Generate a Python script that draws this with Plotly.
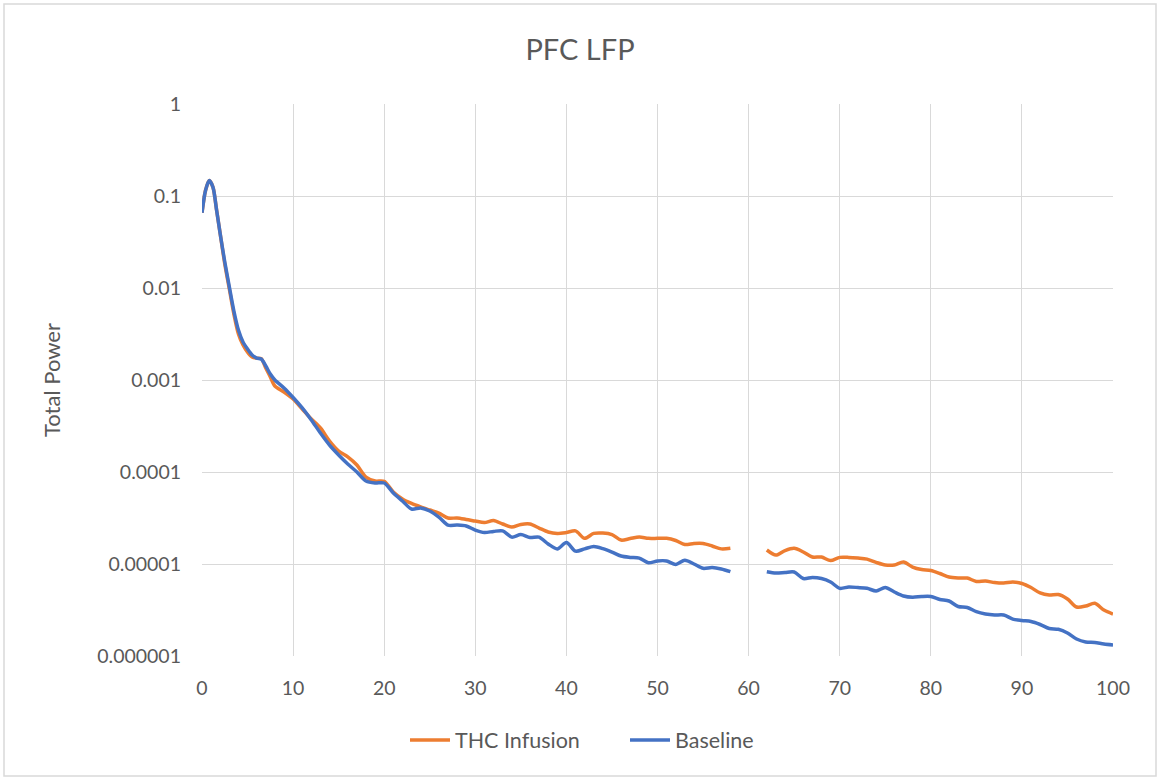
import plotly.graph_objects as go

# Frequency (Hz); None marks the excluded 58-62 Hz band
freq = [0, 0.4, 0.8, 1.2, 1.6, 2, 2.5, 3, 3.5, 4, 4.5, 5, 5.5, 6, 6.5, 7, 7.5, 8,
        9, 10, 11, 12, 13, 14, 15, 16, 17, 18, 19, 20, 21, 22, 23, 24, 25, 26, 27, 28, 29,
        30, 31, 32, 33, 34, 35, 36, 37, 38, 39, 40, 41, 42, 43, 44, 45, 46, 47, 48, 49,
        50, 51, 52, 53, 54, 55, 56, 57, 58, 60,
        62, 63, 64, 65, 66, 67, 68, 69, 70, 71, 72, 73, 74, 75, 76, 77, 78, 79,
        80, 81, 82, 83, 84, 85, 86, 87, 88, 89, 90, 91, 92, 93, 94, 95, 96, 97, 98, 99, 100]

thc_infusion = [0.0658, 0.116, 0.147, 0.125, 0.0705, 0.0386, 0.0183, 0.00975, 0.00521,
                0.00316, 0.0024, 0.00201, 0.00178, 0.00173, 0.00171, 0.00135, 0.00108, 0.000861,
                0.000741, 0.000621, 0.000484, 0.000377, 0.000301, 0.000217, 0.000169, 0.000146,
                0.000119, 8.82e-5, 7.98e-5, 7.9e-5, 6.07e-5, 5.09e-5, 4.55e-5, 4.17e-5, 3.86e-5,
                3.58e-5, 3.16e-5, 3.16e-5, 3.05e-5, 2.93e-5, 2.82e-5, 2.97e-5, 2.72e-5, 2.52e-5,
                2.69e-5, 2.72e-5, 2.46e-5, 2.23e-5, 2.15e-5, 2.2e-5, 2.29e-5, 1.9e-5, 2.15e-5,
                2.17e-5, 2.09e-5, 1.82e-5, 1.89e-5, 1.96e-5, 1.9e-5, 1.9e-5, 1.9e-5, 1.8e-5,
                1.63e-5, 1.67e-5, 1.67e-5, 1.57e-5, 1.46e-5, 1.48e-5, None,
                1.42e-5, 1.25e-5, 1.4e-5, 1.48e-5, 1.35e-5, 1.19e-5, 1.19e-5, 1.09e-5, 1.18e-5,
                1.18e-5, 1.16e-5, 1.13e-5, 1.04e-5, 9.75e-6, 9.75e-6, 1.05e-5, 9.27e-6, 8.71e-6,
                8.49e-6, 7.88e-6, 7.22e-6, 7.05e-6, 7.03e-6, 6.46e-6, 6.53e-6, 6.29e-6, 6.21e-6,
                6.37e-6, 6.14e-6, 5.55e-6, 4.84e-6, 4.6e-6, 4.66e-6, 4.17e-6, 3.41e-6, 3.49e-6,
                3.74e-6, 3.16e-6, 2.86e-6]

baseline = [0.0658, 0.116, 0.147, 0.125, 0.0705, 0.0386, 0.0192, 0.0103, 0.00562,
            0.00349, 0.00259, 0.00217, 0.00187, 0.00173, 0.00169, 0.00142, 0.00116, 0.001,
            0.000818, 0.000645, 0.000497, 0.000368, 0.000265, 0.000196, 0.000153, 0.000122,
            0.0001, 7.98e-5, 7.59e-5, 7.59e-5, 5.91e-5, 4.84e-5, 3.96e-5, 4.06e-5, 3.77e-5,
            3.24e-5, 2.65e-5, 2.65e-5, 2.59e-5, 2.34e-5, 2.2e-5, 2.26e-5, 2.29e-5, 1.96e-5,
            2.09e-5, 1.94e-5, 1.96e-5, 1.65e-5, 1.46e-5, 1.71e-5, 1.38e-5, 1.46e-5, 1.55e-5,
            1.47e-5, 1.35e-5, 1.22e-5, 1.18e-5, 1.16e-5, 1.03e-5, 1.08e-5, 1.08e-5, 9.88e-6,
            1.1e-5, 1.0e-5, 8.97e-6, 9.16e-6, 8.83e-6, 8.25e-6, None,
            8.25e-6, 7.98e-6, 8.09e-6, 8.18e-6, 6.95e-6, 7.13e-6, 6.95e-6, 6.37e-6, 5.44e-6,
            5.62e-6, 5.55e-6, 5.44e-6, 5.09e-6, 5.55e-6, 4.96e-6, 4.49e-6, 4.35e-6, 4.43e-6,
            4.43e-6, 4.11e-6, 3.96e-6, 3.45e-6, 3.37e-6, 3.03e-6, 2.86e-6, 2.79e-6, 2.79e-6,
            2.52e-6, 2.43e-6, 2.37e-6, 2.2e-6, 1.99e-6, 1.95e-6, 1.78e-6, 1.53e-6, 1.42e-6,
            1.4e-6, 1.35e-6, 1.32e-6]

y_tick_vals = [1, 0.1, 0.01, 0.001, 0.0001, 0.00001, 0.000001]
y_tick_text = ["1", "0.1", "0.01", "0.001", "0.0001", "0.00001", "0.000001"]

FONT = "Lato, Open Sans, sans-serif"
TEXT = "#595959"
GRID = "#d9d9d9"

fig = go.Figure()
fig.add_trace(go.Scatter(x=freq, y=thc_infusion, name="THC Infusion", mode="lines",
                         line=dict(color="#ED7D31", width=3.5, shape="spline", smoothing=0.8),
                         connectgaps=False))
fig.add_trace(go.Scatter(x=freq, y=baseline, name="Baseline", mode="lines",
                         line=dict(color="#4472C4", width=3.5, shape="spline", smoothing=0.8),
                         connectgaps=False))

fig.update_layout(
    width=1160, height=782,
    paper_bgcolor="white", plot_bgcolor="white",
    margin=dict(l=202, r=47, t=104, b=126),
    title=dict(text="PFC LFP", x=0.5, xanchor="center", y=0.936, yanchor="middle",
               font=dict(family=FONT, size=29, color=TEXT)),
    font=dict(family=FONT, color=TEXT),
    xaxis=dict(range=[0, 100], tickvals=list(range(0, 101, 10)), showgrid=True,
               gridcolor=GRID, gridwidth=1.3, zeroline=False, showline=False,
               ticks="", tickfont=dict(size=19.5, color=TEXT), ticklabelstandoff=18),
    yaxis=dict(type="log", range=[-6, 0], tickvals=y_tick_vals, ticktext=y_tick_text,
               showgrid=True, gridcolor=GRID, gridwidth=1.3, zeroline=False, showline=False,
               ticks="", tickfont=dict(size=19.5, color=TEXT), ticklabelstandoff=20,
               title=dict(text="Total Power", font=dict(size=22, color=TEXT), standoff=30)),
    legend=dict(orientation="h", x=(405 - 202) / 911, xanchor="left", y=-0.152,
                yanchor="middle", font=dict(size=21.5, color=TEXT), itemwidth=40,
                entrywidth=165, entrywidthmode="pixels",
                bgcolor="rgba(0,0,0,0)"),
    showlegend=True,
)

# Chart frame around the whole figure
fig.add_shape(type="rect", xref="paper", yref="paper",
              x0=(4 - 202) / 911, x1=(1156 - 202) / 911,
              y0=(656 - 776) / 552, y1=(656 - 4) / 552,
              line=dict(color=GRID, width=1.5), fillcolor="rgba(0,0,0,0)", layer="below")

fig.write_html("out.html")
